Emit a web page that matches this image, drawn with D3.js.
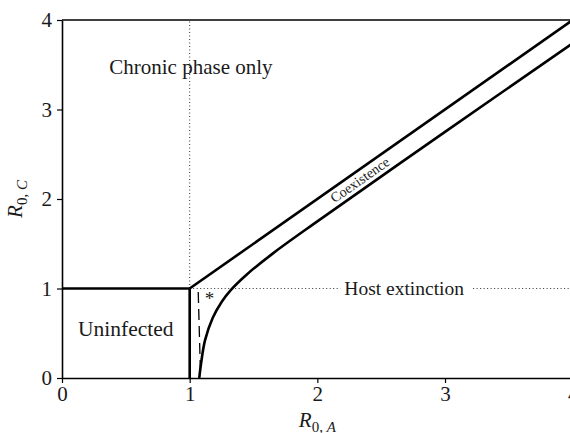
<!DOCTYPE html>
<html><head><meta charset="utf-8">
<script src="https://cdn.jsdelivr.net/npm/d3@7"></script>
<style>
body{margin:0;background:#fff;}
svg text{font-family:"Liberation Serif","Times New Roman",serif !important;fill:#1a1a1a;}
</style></head>
<body><svg id="c" width="570" height="433"></svg>
<script>
const ticks = [0,1,2,3,4];
const uninfectedTop = [[0,1],[1,1]];
const uninfectedRight = [[1,0],[1,1]];
const upperBoundary = [[1,1],[4,4]];
const lowerBoundary = [[1.075,0],[1.09,0.17],[1.12,0.42],[1.18,0.67],[1.25,0.85],[1.32,0.98],[1.45,1.16],[1.65,1.39],[2,1.75],[3,2.75],[4,3.74]];
const dashedLine = [[1.067,0.96],[1.084,0.08]];
const dottedVertical = [[1,1],[1,4]];
const dottedH1 = [[1,1],[2.18,1]];
const dottedH2 = [[3.22,1],[4,1]];
const labels = [
  {t:"Chronic phase only", x:1.01, y:3.45, s:21},
  {t:"Uninfected", x:0.5, y:0.52, s:21.5},
  {t:"Host extinction", x:2.68, y:0.98, s:19.5}
];

const svg = d3.select("#c");
const x = d3.scaleLinear().domain([0,4]).range([62,572.7]);
const y = d3.scaleLinear().domain([0,4]).range([378,20]);
const line = d3.line().x(d=>x(d[0])).y(d=>y(d[1]));
const serif = '"Liberation Serif","Times New Roman",serif';

// axes
const gx = svg.append("g").attr("transform",`translate(0,${y(0)})`)
  .call(d3.axisBottom(x).tickValues(ticks).tickFormat(d3.format("d")).tickSize(5).tickSizeOuter(0).tickPadding(3));
const gy = svg.append("g").attr("transform",`translate(${x(0)},0)`)
  .call(d3.axisLeft(y).tickValues(ticks).tickFormat(d3.format("d")).tickSize(5).tickSizeOuter(0).tickPadding(5));
[gx,gy].forEach(g=>{
  g.attr("font-family",serif).attr("font-size",21);
  g.select(".domain").attr("stroke","#000").attr("stroke-width",1.6);
  g.selectAll(".tick line").attr("stroke","#000").attr("stroke-width",1.2);
  g.selectAll(".tick text").attr("fill","#1a1a1a");
});
// top border
svg.append("line").attr("x1",x(0)).attr("x2",x(4)).attr("y1",y(4)).attr("y2",y(4))
  .attr("stroke","#000").attr("stroke-width",1.6);

// dotted lines
[dottedVertical,dottedH1,dottedH2].forEach(d=>{
  svg.append("path").attr("d",line(d)).attr("fill","none").attr("stroke","#333")
    .attr("stroke-width",1).attr("stroke-dasharray","1,2.5");
});
// dashed
svg.append("path").attr("d",line(dashedLine)).attr("fill","none").attr("stroke","#000")
  .attr("stroke-width",1.3).attr("stroke-dasharray","11,6");

// thick boundaries
[uninfectedTop,uninfectedRight,upperBoundary].forEach(d=>{
  svg.append("path").attr("d",line(d)).attr("fill","none").attr("stroke","#000").attr("stroke-width",2.6);
});
svg.append("path").attr("d",d3.line().x(d=>x(d[0])).y(d=>y(d[1])).curve(d3.curveCatmullRom)(lowerBoundary)).attr("fill","none")
  .attr("stroke","#000").attr("stroke-width",2.6);

// region labels
labels.forEach(l=>{
  svg.append("text").attr("x",x(l.x)).attr("y",y(l.y)).attr("text-anchor","middle")
    .attr("dominant-baseline","middle").attr("font-size",l.s).text(l.t);
});
// asterisk
svg.append("text").attr("x",x(1.155)).attr("y",y(0.82)).attr("text-anchor","middle")
  .attr("font-size",19).text("*");
// coexistence
const ang = Math.atan2(y(0)-y(1), x(1)-x(0))*180/Math.PI;
svg.append("text").attr("transform",`translate(${x(2.34)},${y(2.2)}) rotate(${-ang})`)
  .attr("text-anchor","middle").attr("dominant-baseline","middle").attr("font-size",14).text("Coexistence");

// axis titles
const yl = svg.append("text").attr("transform",`translate(22,${y(2)}) rotate(-90)`)
  .attr("text-anchor","middle").attr("font-size",21);
yl.append("tspan").attr("font-style","italic").text("R");
yl.append("tspan").attr("font-size",15).attr("dy",5).text("0, ");
yl.append("tspan").attr("font-size",15).attr("font-style","italic").text("C");

const xl = svg.append("text").attr("x",x(2)).attr("y",427)
  .attr("text-anchor","middle").attr("font-size",21);
xl.append("tspan").attr("font-style","italic").text("R");
xl.append("tspan").attr("font-size",15).attr("dy",5).text("0, ");
xl.append("tspan").attr("font-size",15).attr("font-style","italic").text("A");
</script></body></html>
